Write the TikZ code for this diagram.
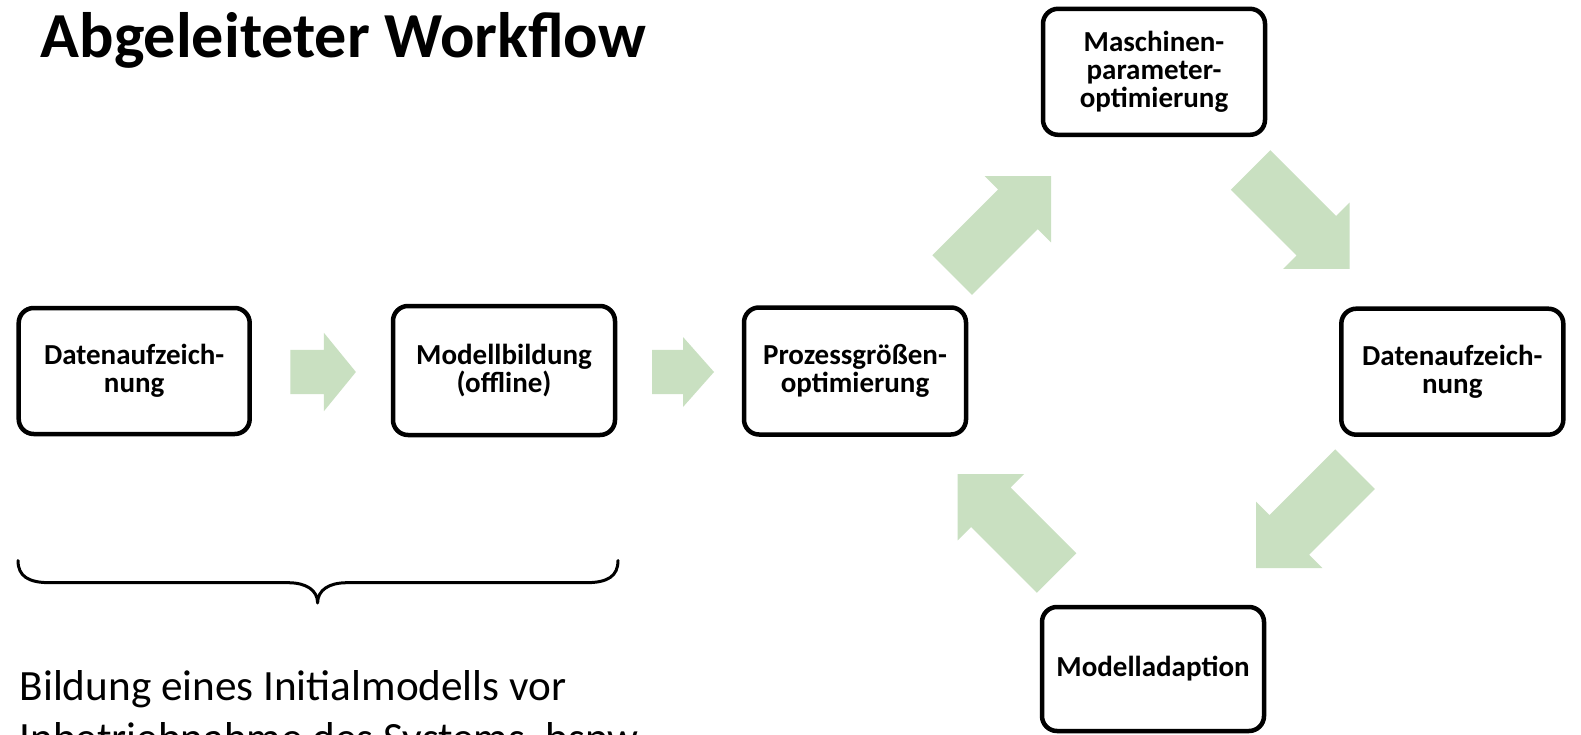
\documentclass[tikz,border=0pt]{standalone}
\usepackage{fontspec}
\setmainfont{Carlito}
\usetikzlibrary{calc}

\definecolor{flowgreen}{RGB}{201,224,193}

\newcommand\stagefont{\fontsize{29}{28.3}\selectfont\bfseries}

% block arrow: #1 tail centre, #2 direction, #3 total length,
% #4 half shaft width, #5 half head width, #6 head length
\newcommand\greenarrow[6]{%
  \fill[flowgreen, shift={#1}, rotate=#2]
    (0,-#4) -- ({#3-#6},-#4) -- ({#3-#6},-#5) -- (#3,0)
    -- ({#3-#6},#5) -- ({#3-#6},#4) -- (0,#4) -- cycle;}

\tikzset{
  stage/.style={draw=black, line width=4.5pt, rounded corners=15pt, fill=white,
    align=center, inner sep=0pt, font=\stagefont,
    minimum width=222pt, minimum height=127pt},
  plain/.style={inner sep=0pt, anchor=base west},
  bracket/.style={draw=black, line width=3pt, line cap=round, line join=round},
}

\begin{document}
\begin{tikzpicture}[x=1pt, y=-1pt]
  \useasboundingbox (0,0) rectangle (1581,735);
  \fill[white] (0,0) rectangle (1581,735);
  \clip (0,0) rectangle (1581,735);

  % heading
  \node[plain, font=\fontsize{64.2}{77}\selectfont\bfseries] (title) at (40.5,58)
    {Abgeleiteter Workflow};

  % offline phase
  \node[stage, minimum width=231pt, minimum height=126pt] (rec1) at (134.2,371)
    {Datenaufzeich-\\nung};
  \node[stage, minimum height=129pt] (model) at (504,370.5)
    {Modellbildung\\(offline)};

  % online loop
  \node[stage] (proc) at (855,371) {Prozessgrößen-\\optimierung};
  \node[stage, minimum height=126pt] (mach) at (1154,71.8)
    {Maschinen-\\parameter-\\optimierung};
  \node[stage, minimum height=126pt] (rec2) at (1452.3,371.7)
    {Datenaufzeich-\\nung};
  \node[stage, minimum height=124pt] (adapt) at (1153,669) {Modelladaption};

  % flow arrows
  \greenarrow{(290.3,372)}{0}{65.6}{22.2}{39.2}{32}
  \greenarrow{(652,372)}{0}{62}{22.2}{35}{31}
  \greenarrow{(952.2,275)}{45}{140}{28}{47}{47}
  \greenarrow{(1250.6,170)}{-45}{140}{28}{47}{47}
  \greenarrow{(1355,469.2)}{-135}{140}{28}{47}{47}
  \greenarrow{(1056.6,573)}{135}{140}{28}{47}{47}

  % brace under the offline phase
  \coordinate (brL) at (18,560.5);
  \coordinate (brR) at (618,560.5);
  \coordinate (brTip) at (317.6,603);
  \draw[bracket] (brL) .. controls (18,576) and (28,582.7) .. (50,582.7)
    -- (288,582.7) .. controls (306,582.7) and (317.6,590) .. (brTip)
    .. controls (317.6,590) and (329,582.7) .. (347,582.7)
    -- (586,582.7) .. controls (608,582.7) and (618,576) .. (brR);

  % explanation
  \node[plain, font=\fontsize{43.2}{52}\selectfont] (note1) at (19.5,700)
    {Bildung eines Initialmodells vor};
  \node[plain, font=\fontsize{43.2}{52}\selectfont] (note2) at (19.5,752)
    {Inbetriebnahme des Systems, bspw.};
\end{tikzpicture}
\end{document}
